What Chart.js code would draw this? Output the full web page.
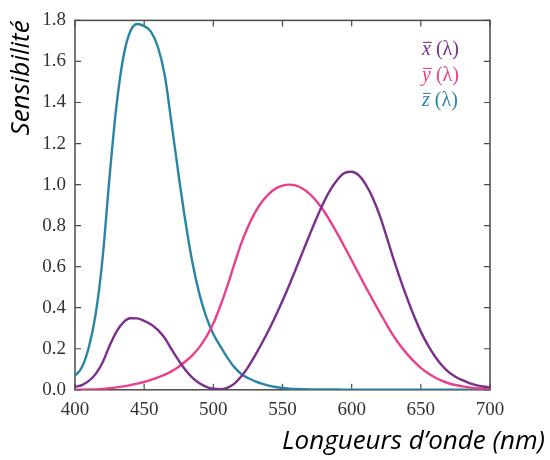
<!DOCTYPE html>
<html>
<head>
<meta charset="utf-8">
<script src="https://cdn.jsdelivr.net/npm/chart.js@4/dist/chart.umd.min.js"></script>
<style>
html,body{margin:0;padding:0;background:#fff;}
#wrap{width:550px;height:460px;position:relative;}
</style>
</head>
<body>
<div id="wrap"><canvas id="c" width="550" height="460"></canvas></div>
<script>
// Wavelengths (nm)
const wavelengths = [400,405,410,415,420,425,430,435,440,445,450,455,460,465,470,475,480,485,490,495,500,505,510,515,520,525,530,535,540,545,550,555,560,565,570,575,580,585,590,595,600,605,610,615,620,625,630,635,640,645,650,655,660,665,670,675,680,685,690,695,700];
// x̄(λ)
const xBar = [0.0143,0.0232,0.0435,0.0776,0.1344,0.2148,0.2839,0.3285,0.3483,0.3481,0.3362,0.3187,0.2908,0.2511,0.1954,0.1421,0.0956,0.0580,0.0320,0.0147,0.0049,0.0024,0.0093,0.0291,0.0633,0.1096,0.1655,0.2257,0.2904,0.3597,0.4334,0.5121,0.5945,0.6784,0.7621,0.8425,0.9163,0.9786,1.0263,1.0567,1.0622,1.0456,1.0026,0.9384,0.8544,0.7514,0.6424,0.5419,0.4479,0.3608,0.2835,0.2187,0.1649,0.1212,0.0874,0.0636,0.0468,0.0329,0.0227,0.0158,0.0114];
// ȳ(λ)
const yBar = [0.0004,0.0006,0.0012,0.0022,0.0040,0.0073,0.0116,0.0168,0.0230,0.0298,0.0380,0.0480,0.0600,0.0739,0.0910,0.1126,0.1390,0.1693,0.2080,0.2586,0.3230,0.4073,0.5030,0.6082,0.7100,0.7932,0.8620,0.9149,0.9540,0.9803,0.9950,1.0000,0.9950,0.9786,0.9520,0.9154,0.8700,0.8163,0.7570,0.6949,0.6310,0.5668,0.5030,0.4412,0.3810,0.3210,0.2650,0.2170,0.1750,0.1382,0.1070,0.0816,0.0610,0.0446,0.0320,0.0232,0.0170,0.0119,0.0082,0.0057,0.0041];
// z̄(λ)
const zBar = [0.0679,0.1102,0.2074,0.3713,0.6456,1.0391,1.3856,1.6230,1.7471,1.7826,1.7721,1.7441,1.6692,1.5281,1.2876,1.0419,0.8130,0.6162,0.4652,0.3533,0.2720,0.2123,0.1582,0.1117,0.0783,0.0573,0.0422,0.0298,0.0203,0.0134,0.0088,0.0058,0.0039,0.0028,0.0021,0.0018,0.0017,0.0014,0.0011,0.0010,0.0008,0.0006,0.0003,0.0002,0.0002,0.0001,0.0001,0,0,0,0,0,0,0,0,0,0,0,0,0,0];

const xTicks = [400,450,500,550,600,650,700];
const yTicks = [0,0.2,0.4,0.6,0.8,1.0,1.2,1.4,1.6,1.8];

const seriesNames = ['x','y','z'];
const colors = ['#7a2f8b','#e8408c','#2a84a6'];

const toPts = arr => wavelengths.map((w,i)=>({x:w,y:arr[i]}));

const serif = "'Liberation Serif','DejaVu Serif',serif";
const sans = "'Open Sans','Noto Sans',sans-serif";

const framePlugin = {
  id:'frame',
  beforeDatasetsDraw(chart){
    const {ctx, chartArea:a, scales:{x, y}} = chart;
    ctx.save();
    ctx.strokeStyle = '#4a4a4a';
    ctx.lineWidth = 1.5;
    ctx.strokeRect(a.left, a.top, a.right-a.left, a.bottom-a.top);
    ctx.lineWidth = 1.2;
    const L = 6;
    ctx.beginPath();
    yTicks.forEach(v=>{
      const p = y.getPixelForValue(v);
      ctx.moveTo(a.left,p); ctx.lineTo(a.left+L,p);
      ctx.moveTo(a.right,p); ctx.lineTo(a.right-L,p);
    });
    xTicks.forEach(v=>{
      const p = x.getPixelForValue(v);
      ctx.moveTo(p,a.bottom); ctx.lineTo(p,a.bottom-L);
      ctx.moveTo(p,a.top); ctx.lineTo(p,a.top+L);
    });
    ctx.stroke();
    ctx.restore();
  }
};

const legendPlugin = {
  id:'mathLegend',
  afterDraw(chart){
    const {ctx, chartArea:a} = chart;
    ctx.save();
    ctx.textBaseline = 'alphabetic';
    const x0 = a.right - 68;
    const ys = [a.top + 35, a.top + 61, a.top + 86];
    seriesNames.forEach((n,i)=>{
      ctx.fillStyle = colors[i];
      ctx.strokeStyle = colors[i];
      ctx.font = "italic 20px " + serif;
      ctx.fillText(n, x0, ys[i]);
      const w = ctx.measureText(n).width;
      ctx.lineWidth = 1.1;
      ctx.beginPath();
      ctx.moveTo(x0+1, ys[i]-13);
      ctx.lineTo(x0+w+1, ys[i]-13);
      ctx.stroke();
      ctx.font = "20px " + serif;
      ctx.fillText('(λ)', x0 + w + 5, ys[i]);
    });
    ctx.restore();
  }
};

new Chart(document.getElementById('c'), {
  type:'line',
  data:{
    datasets:[
      {label:'x̄ (λ)', data:toPts(xBar), borderColor:colors[0]},
      {label:'ȳ (λ)', data:toPts(yBar), borderColor:colors[1]},
      {label:'z̄ (λ)', data:toPts(zBar), borderColor:colors[2]}
    ].map(d=>Object.assign(d,{borderWidth:2.4, pointRadius:0, fill:false, cubicInterpolationMode:'monotone'}))
  },
  options:{
    responsive:false,
    animation:false,
    layout:{padding:{top:18,right:5,bottom:3,left:0}},
    plugins:{
      legend:{display:false},
      tooltip:{enabled:false},
      title:{
        display:true, position:'bottom', align:'end',
        text:'Longueurs d’onde (nm)',
        color:'#000',
        font:{family:sans, size:26, style:'italic', weight:'normal'},
        padding:{top:0,bottom:0}
      }
    },
    scales:{
      x:{
        type:'linear', min:400, max:700,
        afterBuildTicks(s){ s.ticks = xTicks.map(v=>({value:v})); },
        afterFit(s){ s.height = 36; },
        grid:{display:false, drawTicks:false},
        border:{display:false},
        ticks:{color:'#333', font:{family:serif, size:19}, padding:9, maxRotation:0}
      },
      y:{
        type:'linear', min:0, max:1.8,
        afterBuildTicks(s){ s.ticks = yTicks.map(v=>({value:v})); },
        afterFit(s){ s.width = 75; },
        grid:{display:false, drawTicks:false},
        border:{display:false},
        ticks:{color:'#333', font:{family:serif, size:19}, padding:9, callback:v=>v.toFixed(1)},
        title:{display:true, text:'Sensibilité', align:'end', color:'#000',
               font:{family:sans, size:26, style:'italic', weight:'normal'}, padding:{top:6,bottom:0}}
      },
      y2:{
        position:'right', min:0, max:1.8,
        afterFit(s){ s.width = 55; },
        grid:{display:false, drawTicks:false},
        border:{display:false},
        ticks:{display:false}
      }
    }
  },
  plugins:[framePlugin, legendPlugin]
});
</script>
</body>
</html>
